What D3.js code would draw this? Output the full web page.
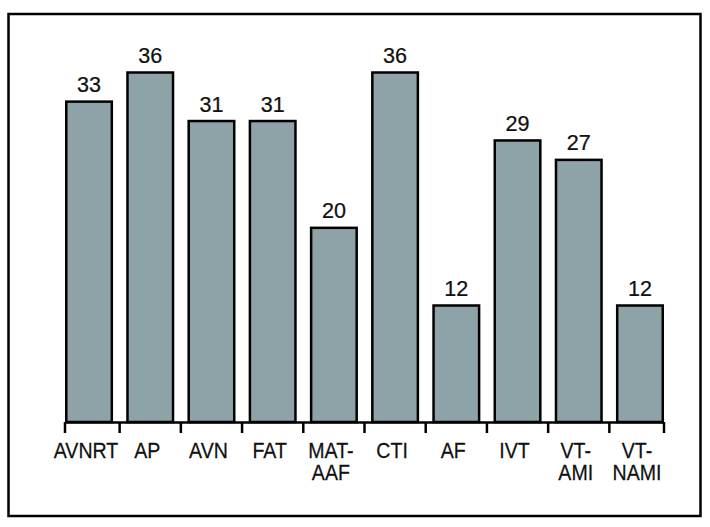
<!DOCTYPE html>
<html><head><meta charset="utf-8">
<script src="https://cdn.jsdelivr.net/npm/d3@7"></script>
<style>
body{margin:0;background:#fff;}
text{font-family:"Liberation Sans","Arial",sans-serif;fill:#111;stroke:#111;stroke-width:0.25px;}
</style></head>
<body>
<svg id="c" width="710" height="527"></svg>
<script>
const categories = [["AVNRT"],["AP"],["AVN"],["FAT"],["MAT-","AAF"],["CTI"],["AF"],["IVT"],["VT-","AMI"],["VT-","NAMI"]];
const values = [33,36,31,31,20,36,12,29,27,12];

const svg = d3.select("#c");
svg.append("rect").attr("x",8.5).attr("y",14).attr("width",692).attr("height",502)
  .attr("fill","none").attr("stroke","#000").attr("stroke-width",2.5);

const left = 65, right = 664, base = 422;
const x = d3.scaleBand().domain(d3.range(values.length)).range([left, right]).paddingInner(0.215).paddingOuter(0);
const y = d3.scaleLinear().domain([0,36]).range([base, 72.5]);

const g = svg.append("g");
g.selectAll("rect.bar").data(values).join("rect").attr("class","bar")
  .attr("x",(d,i)=>x(i)+1.25).attr("width",x.bandwidth()-2.5)
  .attr("y",d=>y(d)).attr("height",d=>base-y(d))
  .attr("fill","#8ea3a7").attr("stroke","#000").attr("stroke-width",2.5);

g.append("line").attr("x1",left).attr("x2",right).attr("y1",base+0.5).attr("y2",base+0.5)
  .attr("stroke","#000").attr("stroke-width",2.5);
const step = x.step();
const ticks = [left].concat(d3.range(1,values.length).map(i=>x(i)-(step-x.bandwidth())/2)).concat([right]);
g.selectAll("line.tick").data(ticks).join("line").attr("class","tick")
  .attr("x1",d=>d).attr("x2",d=>d).attr("y1",base).attr("y2",base+11)
  .attr("stroke","#000").attr("stroke-width",2.5);

g.selectAll("text.val").data(values).join("text").attr("class","val")
  .attr("transform",(d,i)=>`translate(${x(i)+x.bandwidth()/2},${y(d)-9.5}) scale(0.98,1)`)
  .attr("text-anchor","middle").attr("font-size",22).text(d=>d);

const cl = g.selectAll("text.cat").data(categories).join("text").attr("class","cat")
  .attr("transform",(d,i)=>`translate(${x(i)+x.bandwidth()/2-3},457.5) scale(0.89,1)`)
  .attr("text-anchor","middle").attr("font-size",22);
cl.selectAll("tspan").data(d=>d).join("tspan")
  .attr("x",0).attr("dy",(d,i)=>i===0?0:23).text(d=>d);
</script>
</body></html>
